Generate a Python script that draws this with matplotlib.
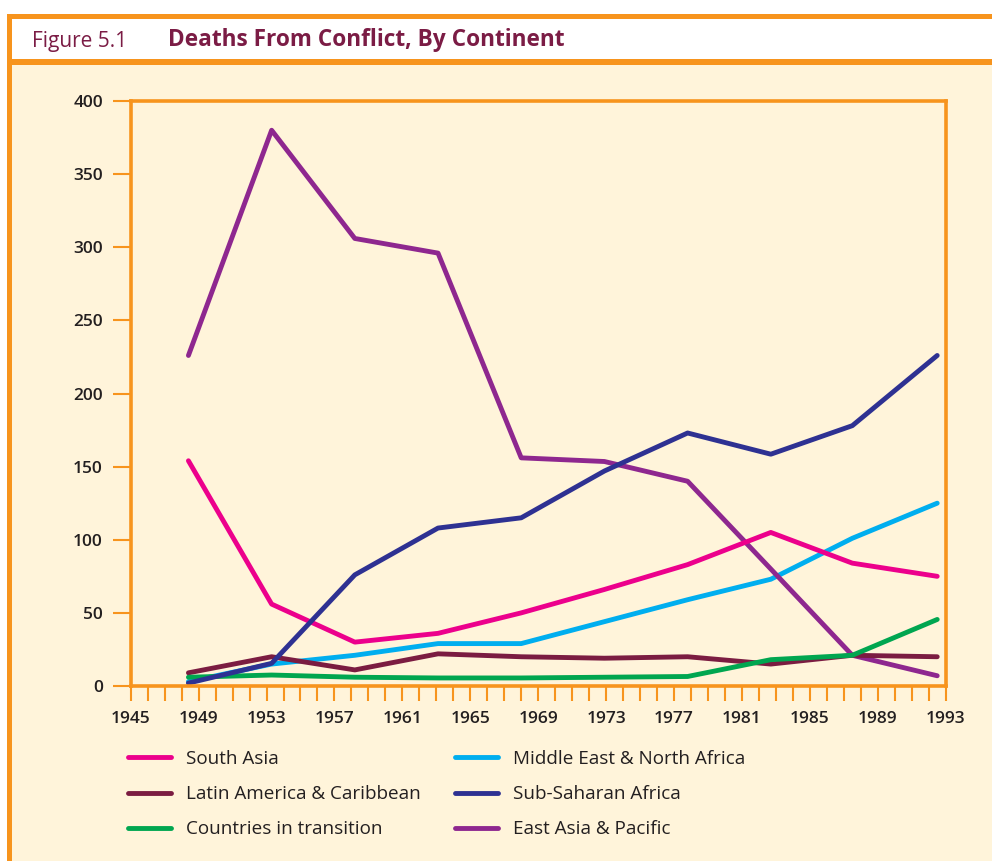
import matplotlib
matplotlib.use("Agg")
import matplotlib.pyplot as plt
from matplotlib.patches import Rectangle

# ---- data ----
years = [1948.4, 1953.3, 1958.2, 1963.1, 1968.0, 1972.9, 1977.8, 1982.7, 1987.5, 1992.5]

south_asia = [154, 56, 30, 36, 50, 66, 83, 105, 84, 75]
latin_america = [9, 20, 11, 22, 20, 19, 20, 15, 21, 20]
transition = [6, 7.5, 6, 5.5, 5.5, 6, 6.5, 18, 21, 45.5]
middle_east = [3, 15, 21, 29, 29, 44, 59, 73, 101, 125]
sub_saharan = [2, 15.5, 76, 108, 115, 147, 173, 158.5, 178, 226]
east_asia = [226, 380, 306, 296, 156, 153.5, 140, 80, 21, 7]

year_ticks = list(range(1945, 1994))
year_labels = [str(y) if (y - 1945) % 4 == 0 else "" for y in year_ticks]
y_ticks = [0, 50, 100, 150, 200, 250, 300, 350, 400]

ORANGE = "#F7941D"
CREAM = "#FFF4DA"
TITLE = "#7B1C45"
TXT = "#231F20"

plt.rcParams["font.family"] = ["Open Sans", "DejaVu Sans"]

W, H = 992, 861
fig = plt.figure(figsize=(W / 100, H / 100), dpi=100)
fig.patch.set_facecolor("white")

def px_rect(x0, y0, x1, y1, color):
    # rectangle given in pixel coords from the top-left corner
    fig.patches.append(Rectangle((x0 / W, 1 - y1 / H), (x1 - x0) / W, (y1 - y0) / H,
                                 transform=fig.transFigure, color=color, lw=0, zorder=-5))

# frame: cream body, white header, orange rules
px_rect(12, 65, W, H, CREAM)
px_rect(7, 14, W, 19, ORANGE)
px_rect(7, 14, 12, H, ORANGE)
px_rect(12, 59, W, 65, ORANGE)

fig.text(32 / W, 1 - 46.5 / H, "Figure 5.1", color=TITLE, fontsize=15, va="baseline")
fig.text(168 / W, 1 - 46.5 / H, "Deaths From Conflict, By Continent", color=TITLE,
         fontsize=16.3, fontweight="bold", va="baseline")

ax = fig.add_axes([130.7 / W, 1 - 686 / H, (945.7 - 130.7) / W, (686 - 101) / H])
ax.set_facecolor("none")

lw = 3.5
l_me, = ax.plot(years, middle_east, color="#00AEEF", lw=lw, solid_capstyle="round", label="Middle East & North Africa")
l_ea, = ax.plot(years, east_asia, color="#8E278F", lw=lw, solid_capstyle="round", label="East Asia & Pacific")
l_la, = ax.plot(years, latin_america, color="#7B1C41", lw=lw, solid_capstyle="round", label="Latin America & Caribbean")
l_tr, = ax.plot(years, transition, color="#00A650", lw=lw, solid_capstyle="round", label="Countries in transition")
l_sa, = ax.plot(years, south_asia, color="#EC008C", lw=lw, solid_capstyle="round", label="South Asia")
l_ss, = ax.plot(years, sub_saharan, color="#2E3192", lw=lw, solid_capstyle="round", label="Sub-Saharan Africa")

ax.set_xlim(1945, 1993)
ax.set_ylim(0, 400)

for s in ax.spines.values():
    s.set_color(ORANGE)
    s.set_linewidth(2.6)

ax.set_xticks(year_ticks)
ax.set_xticklabels(year_labels)
ax.set_yticks(y_ticks)
ax.set_yticklabels([str(v) for v in y_ticks])
ax.tick_params(axis="x", direction="out", length=11, width=1.5, color=ORANGE, pad=7,
               labelsize=12.5, labelcolor=TXT)
ax.tick_params(axis="y", direction="out", length=13, width=1.5, color=ORANGE, pad=7,
               labelsize=12.5, labelcolor=TXT)
for lab in ax.get_xticklabels() + ax.get_yticklabels():
    lab.set_fontweight("semibold")

# legend in two separate columns
leg_kw = dict(frameon=False, fontsize=13.6, handlelength=2.25, handletextpad=0.8,
              labelspacing=0.91, borderpad=0, borderaxespad=0, loc="upper left")
leg1 = fig.legend(handles=[l_sa, l_la, l_tr], bbox_to_anchor=(128 / W, 1 - 750 / H), **leg_kw)
leg2 = fig.legend(handles=[l_me, l_ss, l_ea], bbox_to_anchor=(455 / W, 1 - 750 / H), **leg_kw)
for lg in (leg1, leg2):
    for t in lg.get_texts():
        t.set_color(TXT)

fig.savefig("out.png", dpi=100)
